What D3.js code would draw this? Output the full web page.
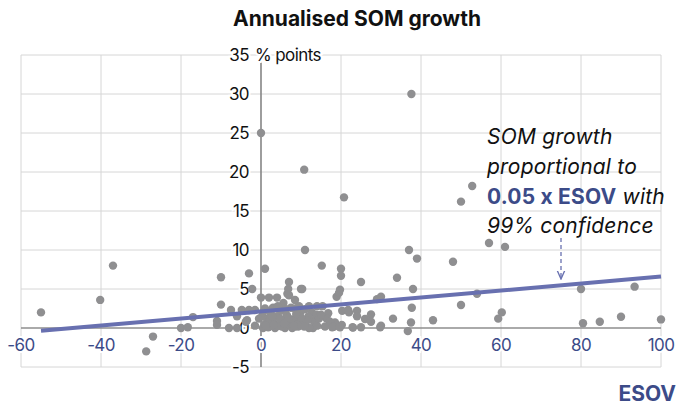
<!DOCTYPE html>
<html>
<head>
<meta charset="utf-8">
<script src="https://cdn.jsdelivr.net/npm/d3@7"></script>
<style>
  body { margin: 0; background: #fff; }
  svg { font-family: Inter, "Liberation Sans", Arial, sans-serif; }
</style>
</head>
<body>
<div id="chart"></div>
<script>
const width = 678;
const height = 405;

// ESOV (x) and annualised SOM growth (y)
const esov = [
  -55, -40.2, -37, -27, -28.7, -20, -18.3, -17,
  -10, -10, -11, -11, -8, -7.5, -6, -6, -4.8, -3.5, -3, -3, -2.2, -1.5, -3.8, -1.5, -0.5,
  0, 1, 0, 2, 4, 5.6, 6.6, 7, 6.8, 7, 8.5, 8.5, 10, 10.3, 9, 10.8, 11,
  13, 13, 15.2, 15.4, 16, 16.8, 18.3, 18.9, 19.75, 20, 20, 19.5, 20.75, 20.3, 22, 24, 24, 25,
  26, 27.5, 27.5, 16.4, 18.5, 33, 37.5, 36.7, 12.7, 13.9, 17.25, 11.8, 9.75, 9.3, 18, 20.2,
  23, 25, 29.8, 30, 21.8, 17.8, 22.9, 19.75,
  29, 30, 34, 37, 39, 37.6, 38, 37.7, 43, 48, 50, 52.8, 50, 54, 57, 61, 59.3, 60.2,
  80, 80.5, 84.7, 90, 93.4, 100,
  0.5, 1, 1.5, 2, 2.5, 3, 3.5, 4, 4.5, 5, 5.5, 6, 6.5, 7, 7.5, 8, 8.5, 1, 3, 0.3, 2.2, 4.2,
  6.2, 7.8, 9.5, 10.5, 11, 12, 11.5, 0.5, 2.8, 5.2, 6.8, 9, 10, 1.8, 3.8, 4.8, 8.8, 12,
  14, 14.5, 14, 15, 1.2, 3.2, 5.8, 8.2, 10.8
];
const somGrowth = [
  2, 3.6, 8, -1.1, -3, 0, 0.1, 1.4,
  6.5, 3, 0.9, 0.4, 0, 2.3, 0, 1.5, 2.3, 1, 7, 2.3, 5, 2.3, 0.8, 0.3, 1.2,
  25, 7.6, 3.9, 3.9, 3.9, 3.2, 4.4, 5.9, 5, 4.2, 3.6, 2.5, 5, 5.0, 1, 20.3, 10,
  0, 1, 8, 2.8, 0.2, 1.9, 0.2, 4, 4.9, 7.6, 6.7, 4.5, 16.75, 2.2, 2, 2.2, 1.5, 5.9,
  1.15, 1.75, 0.8, 1.2, 0.7, 1.2, 0.7, -0.4, 2, 1.7, 0.8, 1.45, 1.9, 0.2, 0.2, 0.4,
  0.05, 0.1, 0.1, 0.3, 2.3, 0.1, 0.1, 0.1,
  3.7, 4, 6.45, 10, 8.9, 30, 5, 2.6, 1, 8.5, 16.2, 18.2, 2.95, 4.4, 10.9, 10.4, 1.2, 2,
  5, 0.6, 0.8, 1.45, 5.3, 1.1,
  0, 0.5, 1.2, 0.2, 1.8, 0.8, 0, 1.5, 0.4, 2.2, 1, 0, 1.6, 0.5, 2.6, 1.1, 0.2, 2.5, 2.6, 1.5, 1, 2.8,
  2.4, 0, 2.8, 0.6, 2.4, 0, 1, 2, 1.5, 0.2, 1.3, 0.4, 1.3, 0.1, 0.2, 1.2, 1.8, 2.8,
  0.3, 1.2, 2.8, 1.7, 0.3, 0.4, 0.6, 0.3, 0.2
];

// fitted trend line end points (ESOV, SOM growth)
const trendX = [-55, 100];
const trendY = [-0.35, 6.6];

const xTicks = [-60, -40, -20, 0, 20, 40, 60, 80, 100];
const yTicks = [-5, 0, 5, 10, 15, 20, 25, 30, 35];

const blue = "#3c4b88";
const lineBlue = "#6870b0";

const svg = d3.select("#chart").append("svg")
  .attr("width", width)
  .attr("height", height);

const x = d3.scaleLinear().domain([-60, 100]).range([21, 661]);
const y = d3.scaleLinear().domain([-5, 35]).range([367, 55]);

// grid
const grid = svg.append("g").attr("stroke", "#d6d6d6").attr("stroke-width", 1);
grid.selectAll("line.v").data(xTicks).join("line")
  .attr("x1", d => x(d)).attr("x2", d => x(d))
  .attr("y1", y(35)).attr("y2", y(-5));
grid.selectAll("line.h").data(yTicks).join("line")
  .attr("y1", d => y(d)).attr("y2", d => y(d))
  .attr("x1", x(-60)).attr("x2", x(100));

// zero axes
svg.append("line")
  .attr("x1", x(-60)).attr("x2", x(100))
  .attr("y1", y(0)).attr("y2", y(0))
  .attr("stroke", "#6a6a6a").attr("stroke-width", 1.2);
svg.append("line")
  .attr("x1", x(0)).attr("x2", x(0))
  .attr("y1", y(34)).attr("y2", y(-5))
  .attr("stroke", "#6a6a6a").attr("stroke-width", 1.2);

// tick labels
svg.append("g").selectAll("text")
  .data(yTicks)
  .join("text")
  .attr("x", x(0) - 12)
  .attr("y", d => y(d) + 6)
  .attr("text-anchor", "end")
  .attr("font-size", 17)
  .attr("letter-spacing", -0.6)
  .attr("fill", "#111")
  .attr("stroke", "#fff").attr("stroke-width", 4).attr("paint-order", "stroke")
  .text(d => d);

svg.append("text")
  .attr("x", x(0) - 6)
  .attr("y", y(35) + 6)
  .attr("font-size", 17)
  .attr("letter-spacing", -0.6)
  .attr("fill", "#111")
  .attr("stroke", "#fff").attr("stroke-width", 4).attr("paint-order", "stroke")
  .text("% points");

svg.append("g").selectAll("text")
  .data(xTicks)
  .join("text")
  .attr("x", d => x(d))
  .attr("y", y(0) + 23)
  .attr("text-anchor", "middle")
  .attr("font-size", 17)
  .attr("letter-spacing", -0.6)
  .attr("fill", blue)
  .attr("stroke", "#fff").attr("stroke-width", 4).attr("paint-order", "stroke")
  .text(d => d);

// points
svg.append("g").selectAll("circle")
  .data(esov.map((d, i) => [d, somGrowth[i]]))
  .join("circle")
  .attr("cx", d => x(d[0]))
  .attr("cy", d => y(d[1]))
  .attr("r", 4.2)
  .attr("fill", "#8f8f91");

// trend line
svg.append("line")
  .attr("x1", x(trendX[0])).attr("y1", y(trendY[0]))
  .attr("x2", x(trendX[1])).attr("y2", y(trendY[1]))
  .attr("stroke", lineBlue).attr("stroke-width", 4);

// annotation arrow
svg.append("defs").append("marker")
  .attr("id", "arrow")
  .attr("viewBox", "0 -5 10 10")
  .attr("refX", 9).attr("refY", 0)
  .attr("markerWidth", 7).attr("markerHeight", 7)
  .attr("orient", "auto")
  .append("path")
  .attr("d", "M0,-4L9,0L0,4")
  .attr("fill", "none")
  .attr("stroke", lineBlue)
  .attr("stroke-width", 1.5);

svg.append("line")
  .attr("x1", x(75)).attr("x2", x(75))
  .attr("y1", 238).attr("y2", 279)
  .attr("stroke", lineBlue).attr("stroke-width", 1.3)
  .attr("stroke-dasharray", "4,3")
  .attr("marker-end", "url(#arrow)");

const note = svg.append("text")
  .attr("x", 487)
  .attr("font-size", 21)
  .attr("letter-spacing", 0.2)
  .attr("fill", "#111");
note.append("tspan").attr("x", 487).attr("y", 144).attr("font-style", "italic").text("SOM growth");
note.append("tspan").attr("x", 487).attr("y", 174).attr("font-style", "italic").text("proportional to");
note.append("tspan").attr("x", 487).attr("y", 204).attr("font-weight", "bold").attr("fill", blue).text("0.05 x ESOV");
note.append("tspan").attr("font-style", "italic").text(" with");
note.append("tspan").attr("x", 487).attr("y", 233).attr("font-style", "italic").text("99% confidence");

// titles
svg.append("text")
  .attr("x", 357).attr("y", 26)
  .attr("text-anchor", "middle")
  .attr("font-size", 21)
  .attr("font-weight", "bold")
  .attr("fill", "#111")
  .text("Annualised SOM growth");

svg.append("text")
  .attr("x", 676).attr("y", 401)
  .attr("text-anchor", "end")
  .attr("font-size", 21)
  .attr("font-weight", "bold")
  .attr("fill", blue)
  .text("ESOV");
</script>
</body>
</html>
